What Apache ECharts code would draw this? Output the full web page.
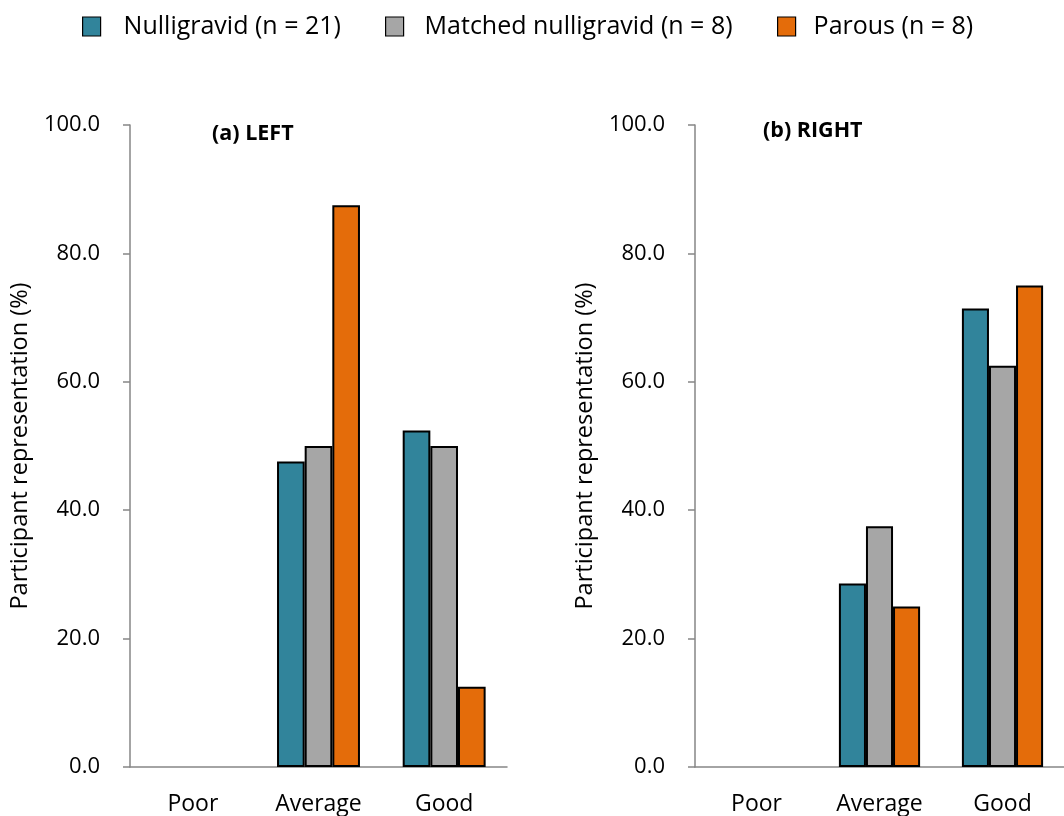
<!DOCTYPE html>
<html>
<head>
<meta charset="utf-8">
<script src="https://cdn.jsdelivr.net/npm/echarts@6/dist/echarts.min.js"></script>
<style>
  html, body { margin: 0; padding: 0; background: #fff; }
  #chart { width: 1064px; height: 816px; }
</style>
</head>
<body>
<div id="chart"></div>
<script>
// Self-rated pelvic floor strength by side, per participant group (%)
const categories = ['Poor', 'Average', 'Good'];
const seriesNames = ['Nulligravid (n = 21)', 'Matched nulligravid (n = 8)', 'Parous (n = 8)'];

const leftNulligravid = [0, 47.6, 52.4];
const leftMatched = [0, 50.0, 50.0];
const leftParous = [0, 87.5, 12.5];

const rightNulligravid = [0, 28.6, 71.4];
const rightMatched = [0, 37.5, 62.5];
const rightParous = [0, 25.0, 75.0];

const yTicks = [0, 20, 40, 60, 80, 100];

const colors = ['#31849B', '#A6A6A6', '#E46C0A'];
const FONT = '"Open Sans", sans-serif';

const panels = [
  { title: '(a) LEFT', data: [leftNulligravid, leftMatched, leftParous] },
  { title: '(b) RIGHT', data: [rightNulligravid, rightMatched, rightParous] }
];

const grids = [
  { left: 130, top: 125, width: 377, height: 644 },
  { left: 695, top: 125, width: 377, height: 644 }
];

const axisGrey = '#868686';

const xAxes = grids.map((g, i) => ({
  type: 'category',
  gridIndex: i,
  data: categories,
  axisLine: { lineStyle: { color: axisGrey, width: 1.5 } },
  axisTick: { length: 7, lineStyle: { color: axisGrey, width: 1.5 } },
  axisLabel: { color: '#000', fontFamily: FONT, fontSize: 23, margin: 26 }
}));

const yAxes = grids.map((g, i) => ({
  type: 'value',
  gridIndex: i,
  min: yTicks[0],
  max: yTicks[yTicks.length - 1],
  interval: yTicks[1] - yTicks[0],
  name: 'Participant representation (%)',
  nameLocation: 'middle',
  nameGap: 98,
  nameTextStyle: { color: '#000', fontFamily: FONT, fontSize: 23.5 },
  axisLine: { show: true, lineStyle: { color: axisGrey, width: 1.5 } },
  axisTick: { show: true, length: 7, lineStyle: { color: axisGrey, width: 1.5 } },
  splitLine: { show: false },
  axisLabel: {
    color: '#000', fontFamily: FONT, fontSize: 22, margin: 30,
    formatter: v => v.toFixed(1)
  }
}));

const series = [];
panels.forEach((p, pi) => {
  p.data.forEach((vals, si) => {
    series.push({
      name: seriesNames[si],
      type: 'bar',
      xAxisIndex: pi,
      yAxisIndex: pi,
      barGap: '0%',
      barCategoryGap: '34%',
      itemStyle: { color: colors[si], borderColor: '#000', borderWidth: 2 },
      data: vals.map(v => v === 0 ? { value: v, itemStyle: { borderWidth: 0 } } : v)
    });
  });
});

// one legend block per group so each entry sits at its own spot
const legendLefts = [82, 385, 777];
const legendPads = [18, 16, 13];
const legends = seriesNames.map((n, i) => ({
  top: 14,
  left: legendLefts[i],
  padding: 0,
  itemWidth: 18,
  itemHeight: 19,
  icon: 'rect',
  itemStyle: { borderColor: '#000', borderWidth: 1.2 },
  textStyle: { color: '#000', fontFamily: FONT, fontSize: 25, padding: [0, 0, 0, legendPads[i]] },
  data: [n]
}));

const chart = echarts.init(document.getElementById('chart'));
chart.setOption({
  animation: false,
  color: colors,
  legend: legends,
  title: [
    { text: panels[0].title, left: 207, top: 118,
      textStyle: { fontFamily: FONT, fontSize: 21.5, fontWeight: 'bold', color: '#000' } },
    { text: panels[1].title, left: 758, top: 115,
      textStyle: { fontFamily: FONT, fontSize: 21.5, fontWeight: 'bold', color: '#000' } }
  ],
  grid: grids,
  xAxis: xAxes,
  yAxis: yAxes,
  series: series
});
</script>
</body>
</html>
